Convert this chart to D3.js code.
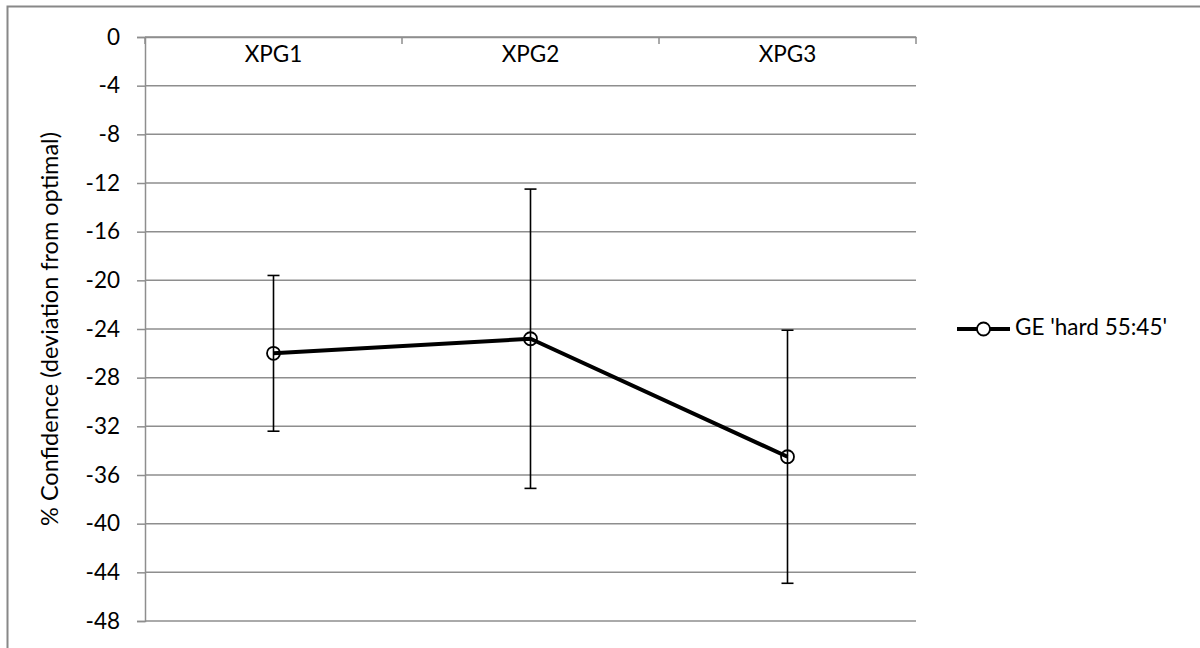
<!DOCTYPE html>
<html>
<head>
<meta charset="utf-8">
<script src="https://cdn.jsdelivr.net/npm/d3@7"></script>
<style>
  html, body { margin: 0; padding: 0; background: #fff; }
  svg { display: block; }
  text { font-family: Lato, "Open Sans", sans-serif; fill: #000; }
</style>
</head>
<body>
<svg id="chart" width="1200" height="648"></svg>
<script>
// ---- data ----
const categories = ["XPG1", "XPG2", "XPG3"];
const seriesName = "GE 'hard 55:45'";
const means = [-26.0, -24.8, -34.5];
const errors = [6.4, 12.3, 10.4];
const yTicks = [0, -4, -8, -12, -16, -20, -24, -28, -32, -36, -40, -44, -48];
const yTitle = "% Confidence (deviation from optimal)";

// ---- layout ----
const W = 1200, H = 648;
const plot = { left: 145, right: 916, top: 37, bottom: 621 };
const gridColor = "#8e8e8e";
const fontSize = 22.5;

const svg = d3.select("#chart");

// outer chart border
svg.append("rect")
  .attr("x", 7.5).attr("y", 6.5)
  .attr("width", W + 20).attr("height", H + 20)
  .attr("fill", "#fff").attr("stroke", "#888").attr("stroke-width", 2);

const x = d3.scaleBand().domain(categories).range([plot.left, plot.right]).padding(0);
const y = d3.scaleLinear().domain([0, -48]).range([plot.top, plot.bottom]);

// gridlines
svg.append("g")
  .selectAll("line")
  .data(yTicks)
  .join("line")
  .attr("x1", plot.left).attr("x2", plot.right)
  .attr("y1", d => y(d)).attr("y2", d => y(d))
  .attr("stroke", gridColor).attr("stroke-width", 1.5);

// y axis
const yAxis = svg.append("g")
  .attr("transform", `translate(${plot.left},0)`)
  .call(d3.axisLeft(y).tickValues(yTicks).tickSize(8).tickPadding(17).tickFormat(d => d3.format("d")(d).replace("−", "-")));
yAxis.select(".domain").attr("stroke", gridColor).attr("stroke-width", 1.5);
yAxis.selectAll(".tick line").attr("stroke", gridColor).attr("stroke-width", 1.5);
yAxis.selectAll(".tick text").attr("font-size", fontSize).attr("font-family", "Lato, 'Open Sans', sans-serif").attr("fill", "#000");

// category axis (crosses at 0, top of plot)
const xAxis = svg.append("g")
  .attr("transform", `translate(0,${y(0)})`)
  .call(d3.axisBottom(x).tickSize(0).tickPadding(9));
xAxis.select(".domain").attr("stroke", gridColor).attr("stroke-width", 1.5);
xAxis.selectAll(".tick text").attr("font-size", fontSize).attr("font-family", "Lato, 'Open Sans', sans-serif").attr("fill", "#000");
// boundary tick marks between categories
const bounds = categories.map(c => x(c)).concat([x(categories[categories.length - 1]) + x.bandwidth()]);
svg.append("g").selectAll("line").data(bounds).join("line")
  .attr("x1", d => d).attr("x2", d => d)
  .attr("y1", y(0)).attr("y2", y(0) + 7)
  .attr("stroke", gridColor).attr("stroke-width", 1.5);

// y title
svg.append("text")
  .attr("transform", `translate(52,${(plot.top + plot.bottom) / 2}) rotate(-90)`)
  .attr("text-anchor", "middle")
  .attr("dominant-baseline", "middle")
  .attr("font-size", 23.5)
  .text(yTitle);

const data = categories.map((c, i) => ({ c, v: means[i], e: errors[i] }));
const cx = d => x(d.c) + x.bandwidth() / 2;

// error bars
const eb = svg.append("g").attr("stroke", "#000").attr("stroke-width", 1.6);
eb.selectAll("line.v").data(data).join("line").attr("class", "v")
  .attr("x1", cx).attr("x2", cx)
  .attr("y1", d => y(d.v + d.e)).attr("y2", d => y(d.v - d.e));
eb.selectAll("line.t").data(data).join("line").attr("class", "t")
  .attr("x1", d => cx(d) - 6).attr("x2", d => cx(d) + 6)
  .attr("y1", d => y(d.v + d.e)).attr("y2", d => y(d.v + d.e));
eb.selectAll("line.b").data(data).join("line").attr("class", "b")
  .attr("x1", d => cx(d) - 6).attr("x2", d => cx(d) + 6)
  .attr("y1", d => y(d.v - d.e)).attr("y2", d => y(d.v - d.e));

// series line
svg.append("path")
  .datum(data)
  .attr("fill", "none").attr("stroke", "#000").attr("stroke-width", 4)
  .attr("stroke-linejoin", "round")
  .attr("d", d3.line().x(cx).y(d => y(d.v)));

// markers
svg.append("g").selectAll("circle").data(data).join("circle")
  .attr("cx", cx).attr("cy", d => y(d.v)).attr("r", 6.5)
  .attr("fill", "none").attr("stroke", "#000").attr("stroke-width", 1.8);

// legend
const ly = y(-24);
const lg = svg.append("g");
lg.append("line").attr("x1", 957).attr("x2", 1010).attr("y1", ly).attr("y2", ly)
  .attr("stroke", "#000").attr("stroke-width", 4);
lg.append("circle").attr("cx", 983.5).attr("cy", ly).attr("r", 6.5)
  .attr("fill", "#fff").attr("stroke", "#000").attr("stroke-width", 1.8);
lg.append("text").attr("x", 1015).attr("y", ly)
  .attr("dominant-baseline", "middle").attr("font-size", fontSize)
  .text(seriesName);
</script>
</body>
</html>
